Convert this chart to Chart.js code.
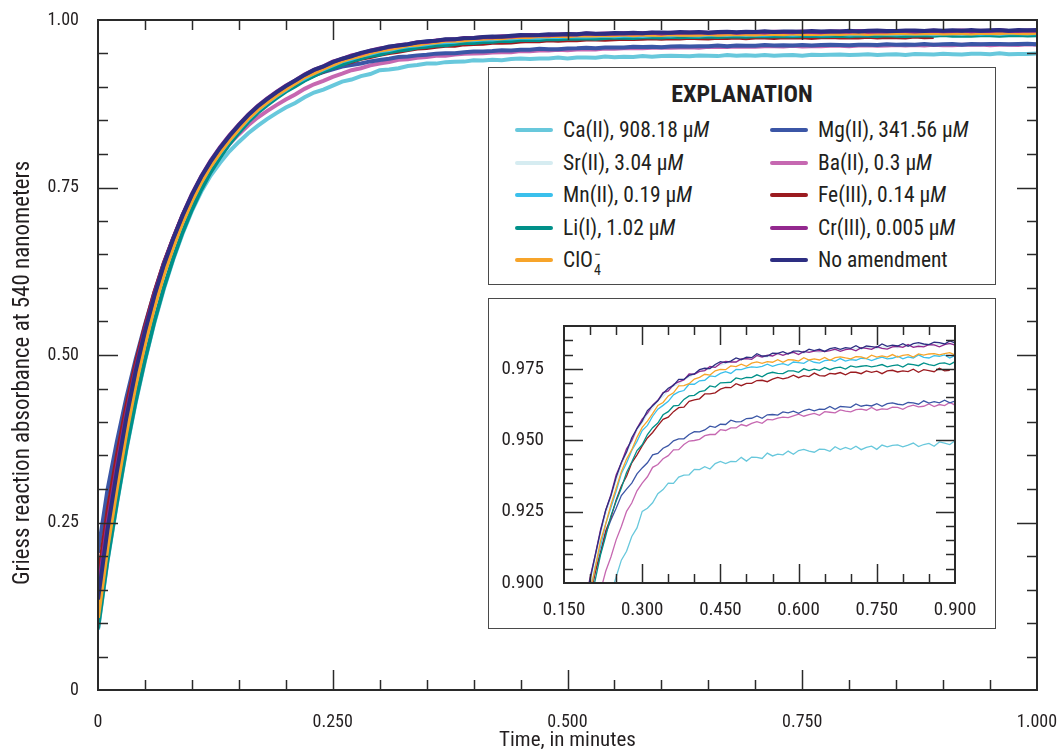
<!DOCTYPE html>
<html>
<head>
<meta charset="utf-8">
<script src="https://cdn.jsdelivr.net/npm/chart.js@4.4.1/dist/chart.umd.min.js"></script>
<style>
  html, body { margin: 0; padding: 0; background: #fff; }
  #wrap {
    position: relative; width: 1057px; height: 753px; overflow: hidden;
    font-family: 'Liberation Sans Narrow', 'Roboto Condensed', 'DejaVu Sans Condensed', 'Liberation Sans', sans-serif;
    color: #231f20;
  }
  #main { position: absolute; left: 0; top: 0; }
  .box { position: absolute; background: #fff; border: 1.5px solid #4a4a4a; box-sizing: border-box; }
  #legend { left: 488px; top: 67px; width: 508px; height: 218px; }
  #legend .ttl { position: absolute; left: 0; right: 0; top: 12px; text-align: center; font-weight: bold; font-size: 24px; }
  .item { position: absolute; height: 30px; line-height: 30px; font-size: 21.5px; white-space: nowrap; }
  .item .sw { position: absolute; left: 0; top: 13px; width: 38px; height: 4px; border-radius: 2px; }
  .item .tx { position: absolute; left: 48px; top: 0; }
  .stk { display: inline-block; position: relative; width: 8px; height: 10px; }
  .stk .sb { position: absolute; left: 1px; top: 6px; font-size: 14px; line-height: 14px; }
  .stk .sp { position: absolute; left: 1px; top: -10px; font-size: 14px; line-height: 14px; }
  #insetBox { left: 488px; top: 298px; width: 508px; height: 331px; }
  #inset { position: absolute; left: 488px; top: 298px; }
</style>
</head>
<body>
<div id="wrap">
  <canvas id="main" width="1057" height="753"></canvas>
  <div id="legend" class="box"><div class="ttl">EXPLANATION</div></div>
  <div id="insetBox" class="box"></div>
  <canvas id="inset" width="507" height="330"></canvas>
</div>
<script>
// Time, in minutes (shared by every series)
const times = [
  0.00,0.01,0.02,0.03,0.04,0.05,0.06,0.07,0.08,0.09,
  0.10,0.11,0.12,0.13,0.14,0.15,0.16,0.17,0.18,0.19,
  0.20,0.21,0.22,0.23,0.24,0.25,0.26,0.27,0.28,0.29,
  0.30,0.31,0.32,0.33,0.34,0.35,0.36,0.37,0.38,0.39,
  0.40,0.41,0.42,0.43,0.44,0.45,0.46,0.47,0.48,0.49,
  0.50,0.51,0.52,0.53,0.54,0.55,0.56,0.57,0.58,0.59,
  0.60,0.61,0.62,0.63,0.64,0.65,0.66,0.67,0.68,0.69,
  0.70,0.71,0.72,0.73,0.74,0.75,0.76,0.77,0.78,0.79,
  0.80,0.81,0.82,0.83,0.84,0.85,0.86,0.87,0.88,0.89,
  0.90,0.91,0.92,0.93,0.94,0.95,0.96,0.97,0.98,0.99,
  1.00
];

// Griess reaction absorbance at 540 nm for each amendment
const caII = [
  0.090,0.191,0.277,0.357,0.428,0.491,0.548,0.598,0.642,0.681,
  0.715,0.744,0.768,0.787,0.804,0.818,0.831,0.842,0.852,0.861,
  0.8693,0.8762,0.8846,0.8917,0.8962,0.9021,0.9080,0.9111,0.9163,0.9193,
  0.9251,0.9262,0.9281,0.9313,0.9327,0.9350,0.9349,0.9371,0.9378,0.9379,
  0.9398,0.9397,0.9407,0.9399,0.9418,0.9426,0.9418,0.9426,0.9425,0.9440,
  0.9427,0.9441,0.9440,0.9436,0.9455,0.9445,0.9451,0.9449,0.9462,0.9451,
  0.9464,0.9468,0.9462,0.9458,0.9469,0.9468,0.9461,0.9477,0.9467,0.9475,
  0.9468,0.9479,0.9467,0.9475,0.9479,0.9468,0.9483,0.9477,0.9482,0.9484,
  0.9477,0.9483,0.9490,0.9478,0.9485,0.9489,0.9479,0.9494,0.9490,0.9485,
  0.9498,0.9490,0.9484,0.9495,0.9496,0.9490,0.9503,0.9488,0.9494,0.9491,
  0.9501
];
const srII = [
  0.120,0.224,0.312,0.393,0.464,0.523,0.578,0.6255,0.6655,0.7015,
  0.733,0.7605,0.7845,0.805,0.8235,0.840,0.8555,0.869,0.8802,0.8903,
  0.8997,0.9082,0.9168,0.9241,0.9298,0.9357,0.9412,0.9456,0.9493,0.9535,
  0.9561,0.9591,0.9613,0.9639,0.9653,0.9674,0.9690,0.9696,0.9714,0.9721,
  0.9731,0.9740,0.9744,0.9753,0.9762,0.9763,0.9769,0.9774,0.9773,0.9783,
  0.9785,0.9785,0.9794,0.9791,0.9792,0.9798,0.9801,0.9800,0.9807,0.9803,
  0.9806,0.9805,0.9811,0.9811,0.9807,0.9814,0.9817,0.9814,0.9815,0.9822,
  0.9817,0.9821,0.9819,0.9827,0.9822,0.9821,0.9827,0.9826,0.9829,0.9824,
  0.9830,0.9831,0.9829,0.9835,0.9832,0.9836,0.9831,0.9837,0.9839,0.9835,
  0.9839,0.9838,0.9843,0.9837,0.9842,0.9841,0.9839,0.9846,0.9841,0.9844,
  0.9841
];
const mnII = [
  0.115,0.218,0.306,0.387,0.459,0.520,0.575,0.622,0.663,0.699,
  0.731,0.7585,0.782,0.8022,0.8205,0.8367,0.852,0.8652,0.8765,0.8868,
  0.8958,0.9057,0.9127,0.9206,0.9264,0.9321,0.9383,0.9420,0.9464,0.9496,
  0.9534,0.9552,0.9584,0.9609,0.9622,0.9636,0.9659,0.9669,0.9674,0.9696,
  0.9696,0.9708,0.9710,0.9725,0.9723,0.9734,0.9740,0.9734,0.9748,0.9747,
  0.9753,0.9757,0.9755,0.9759,0.9766,0.9759,0.9765,0.9768,0.9762,0.9774,
  0.9772,0.9769,0.9780,0.9773,0.9770,0.9779,0.9781,0.9776,0.9786,0.9777,
  0.9782,0.9780,0.9787,0.9786,0.9779,0.9786,0.9791,0.9785,0.9787,0.9794,
  0.9785,0.9792,0.9788,0.9799,0.9790,0.9788,0.9796,0.9794,0.9799,0.9788,
  0.9797,0.9797,0.9792,0.9802,0.9796,0.9801,0.9791,0.9801,0.9803,0.9797,
  0.9801
];
const liI = [
  0.092,0.193,0.279,0.359,0.430,0.493,0.550,0.600,0.644,0.683,
  0.717,0.747,0.773,0.795,0.815,0.832,0.848,0.8615,0.873,0.8832,
  0.8931,0.9012,0.9098,0.9164,0.9235,0.9286,0.9333,0.9387,0.9424,0.9464,
  0.9484,0.9520,0.9544,0.9560,0.9589,0.9600,0.9620,0.9622,0.9643,0.9655,
  0.9657,0.9670,0.9674,0.9690,0.9686,0.9701,0.9702,0.9703,0.9718,0.9714,
  0.9720,0.9719,0.9729,0.9722,0.9733,0.9738,0.9734,0.9733,0.9743,0.9743,
  0.9738,0.9750,0.9744,0.9749,0.9745,0.9755,0.9747,0.9753,0.9756,0.9749,
  0.9760,0.9756,0.9759,0.9761,0.9757,0.9760,0.9765,0.9757,0.9761,0.9764,
  0.9756,0.9767,0.9765,0.9761,0.9771,0.9765,0.9761,0.9769,0.9771,0.9765,
  0.9775,0.9764,0.9768,0.9766,0.9773,0.9772,0.9764,0.9772,0.9776,0.9770,
  0.9771
];
const clo4 = [
  0.108,0.212,0.301,0.383,0.455,0.517,0.572,0.620,0.661,0.698,
  0.730,0.758,0.782,0.8025,0.821,0.8375,0.853,0.8661,0.8772,0.8874,
  0.8968,0.9055,0.9147,0.9208,0.9274,0.9332,0.9390,0.9434,0.9467,0.9510,
  0.9545,0.9567,0.9593,0.9622,0.9632,0.9655,0.9666,0.9690,0.9691,0.9698,
  0.9714,0.9720,0.9731,0.9728,0.9743,0.9748,0.9747,0.9760,0.9758,0.9766,
  0.9759,0.9770,0.9774,0.9769,0.9775,0.9773,0.9782,0.9773,0.9782,0.9781,
  0.9777,0.9789,0.9781,0.9785,0.9781,0.9790,0.9780,0.9789,0.9792,0.9788,
  0.9785,0.9793,0.9792,0.9786,0.9798,0.9791,0.9795,0.9791,0.9800,0.9791,
  0.9797,0.9800,0.9791,0.9802,0.9798,0.9802,0.9803,0.9799,0.9803,0.9807,
  0.9799,0.9804,0.9806,0.9799,0.9809,0.9807,0.9803,0.9813,0.9806,0.9803,
  0.9810
];
const mgII = [
  0.205,0.298,0.370,0.435,0.493,0.545,0.593,0.636,0.673,0.707,
  0.7375,0.7642,0.787,0.8065,0.824,0.8397,0.8545,0.8672,0.878,0.8875,
  0.8960,0.9042,0.9104,0.9174,0.9221,0.9262,0.9306,0.9329,0.9350,0.9382,
  0.9403,0.9421,0.9449,0.9454,0.9472,0.9481,0.9498,0.9505,0.9505,0.9520,
  0.9530,0.9529,0.9536,0.9549,0.9545,0.9556,0.9555,0.9570,0.9564,0.9565,
  0.9576,0.9577,0.9585,0.9577,0.9589,0.9590,0.9588,0.9599,0.9596,0.9602,
  0.9594,0.9604,0.9609,0.9603,0.9609,0.9608,0.9618,0.9608,0.9618,0.9617,
  0.9615,0.9627,0.9619,0.9623,0.9620,0.9628,0.9619,0.9628,0.9631,0.9626,
  0.9624,0.9632,0.9631,0.9626,0.9638,0.9630,0.9635,0.9631,0.9640,0.9631,
  0.9637,0.9641,0.9632,0.9643,0.9638,0.9642,0.9643,0.9639,0.9642,0.9647,
  0.9638
];
const baII = [
  0.130,0.233,0.320,0.400,0.470,0.530,0.582,0.6275,0.6665,0.701,
  0.731,0.757,0.779,0.798,0.815,0.8295,0.843,0.8545,0.864,0.873,
  0.8813,0.8888,0.8972,0.9041,0.9091,0.9151,0.9198,0.9251,0.9280,0.9323,
  0.9350,0.9372,0.9405,0.9415,0.9435,0.9446,0.9466,0.9467,0.9485,0.9497,
  0.9499,0.9503,0.9516,0.9520,0.9520,0.9537,0.9534,0.9543,0.9543,0.9555,
  0.9550,0.9559,0.9565,0.9559,0.9573,0.9571,0.9577,0.9581,0.9579,0.9585,
  0.9591,0.9584,0.9590,0.9594,0.9587,0.9600,0.9598,0.9596,0.9606,0.9602,
  0.9599,0.9607,0.9609,0.9605,0.9615,0.9605,0.9610,0.9608,0.9616,0.9615,
  0.9608,0.9618,0.9623,0.9617,0.9619,0.9627,0.9618,0.9625,0.9621,0.9632,
  0.9623,0.9623,0.9631,0.9629,0.9633,0.9624,0.9632,0.9632,0.9627,0.9637,
  0.9631
];
const feIII = [
  0.165,0.266,0.349,0.423,0.487,0.543,0.593,0.637,0.674,0.708,
  0.738,0.7645,0.787,0.8065,0.824,0.8395,0.854,0.8665,0.877,0.8865,
  0.8948,0.9037,0.9107,0.9182,0.9229,0.9291,0.9340,0.9374,0.9421,0.9449,
  0.9480,0.9508,0.9527,0.9551,0.9573,0.9581,0.9600,0.9614,0.9616,0.9636,
  0.9641,0.9645,0.9662,0.9662,0.9666,0.9679,0.9685,0.9684,0.9698,0.9691,
  0.9699,0.9699,0.9709,0.9710,0.9705,0.9714,0.9720,0.9715,0.9719,0.9728,
  0.9719,0.9726,0.9723,0.9735,0.9726,0.9725,0.9734,0.9732,0.9737,0.9729,
  0.9738,0.9738,0.9733,0.9743,0.9738,0.9742,0.9733,0.9743,0.9745,0.9739,
  0.9743,0.9740,0.9749,0.9738,0.9747,0.9744,0.9740,0.9752,0.9743,0.9745
];
const crIII = [
  0.147,0.248,0.333,0.411,0.479,0.538,0.590,0.6355,0.674,0.709,
  0.740,0.767,0.790,0.810,0.828,0.8438,0.8587,0.8717,0.8826,0.8926,
  0.9019,0.9099,0.9186,0.9255,0.9309,0.9378,0.9421,0.9470,0.9499,0.9542,
  0.9574,0.9595,0.9623,0.9640,0.9667,0.9673,0.9695,0.9704,0.9711,0.9732,
  0.9731,0.9741,0.9744,0.9758,0.9755,0.9769,0.9776,0.9774,0.9774,0.9785,
  0.9786,0.9783,0.9797,0.9791,0.9798,0.9795,0.9804,0.9797,0.9804,0.9808,
  0.9800,0.9811,0.9808,0.9812,0.9814,0.9810,0.9814,0.9819,0.9811,0.9817,
  0.9820,0.9813,0.9824,0.9822,0.9818,0.9828,0.9822,0.9819,0.9827,0.9829,
  0.9825,0.9835,0.9825,0.9829,0.9827,0.9835,0.9834,0.9827,0.9835,0.9839,
  0.9833,0.9835,0.9842,0.9833,0.9839,0.9835,0.9846,0.9837,0.9834,0.9843,
  0.9840
];
const noAmendment = [
  0.135,0.238,0.325,0.405,0.475,0.535,0.588,0.634,0.673,0.708,
  0.739,0.766,0.789,0.809,0.827,0.843,0.858,0.871,0.882,0.892,
  0.9013,0.9098,0.9181,0.9255,0.9306,0.9370,0.9422,0.9459,0.9509,0.9541,
  0.9567,0.9604,0.9621,0.9638,0.9664,0.9682,0.9692,0.9713,0.9713,0.9727,
  0.9732,0.9747,0.9752,0.9751,0.9765,0.9775,0.9772,0.9777,0.9788,0.9782,
  0.9791,0.9789,0.9803,0.9795,0.9795,0.9805,0.9804,0.9810,0.9802,0.9812,
  0.9812,0.9808,0.9819,0.9814,0.9819,0.9811,0.9821,0.9824,0.9818,0.9824,
  0.9822,0.9831,0.9821,0.9830,0.9828,0.9825,0.9837,0.9829,0.9833,0.9830,
  0.9838,0.9829,0.9838,0.9842,0.9837,0.9835,0.9843,0.9842,0.9837,0.9848,
  0.9841,0.9846,0.9841,0.9850,0.9841,0.9847,0.9849,0.9841,0.9851,0.9847,
  0.9850
];

// Legend labels and line colours, in legend order
const seriesLabels = [
  'Ca(II), 908.18 µM', 'Sr(II), 3.04 µM', 'Mn(II), 0.19 µM', 'Li(I), 1.02 µM', 'ClO4−',
  'Mg(II), 341.56 µM', 'Ba(II), 0.3 µM', 'Fe(III), 0.14 µM', 'Cr(III), 0.005 µM', 'No amendment'
];
const seriesValues = [caII, srII, mnII, liI, clo4, mgII, baII, feIII, crIII, noAmendment];
const seriesColors = [
  '#68c8dc', '#d6ecf1', '#3ac0ec', '#009089', '#f7a42a',
  '#3b56a6', '#c668b1', '#9b1b20', '#93288e', '#2d2e82'
];
// stacking: smaller number is painted later (on top)
const seriesOrder = [8, 9, 3, 4, 2, 6, 7, 5, 1, 0];

// Axis ticks
const mainXTicks = [0, 0.25, 0.5, 0.75, 1.0];
const mainYTicks = [0, 0.25, 0.5, 0.75, 1.0];
const insetXTicks = [0.15, 0.3, 0.45, 0.6, 0.75, 0.9];
const insetYTicks = [0.9, 0.925, 0.95, 0.975];

const FONT = "'Liberation Sans Narrow', 'Roboto Condensed', 'DejaVu Sans Condensed', 'Liberation Sans', sans-serif";
const INK = '#231f20';
Chart.defaults.font.family = FONT;
Chart.defaults.color = INK;

function toPoints(vals) {
  const pts = [];
  vals.forEach((v, i) => { if (v !== null && v !== undefined) pts.push({ x: times[i], y: v }); });
  return pts;
}
function makeDatasets(width) {
  return seriesValues.map((vals, i) => ({
    label: seriesLabels[i],
    data: toPoints(vals),
    borderColor: seriesColors[i],
    backgroundColor: seriesColors[i],
    borderWidth: width,
    pointRadius: 0,
    tension: 0,
    fill: false,
    order: seriesOrder[i]
  }));
}

// Frame with inward-pointing ticks on all four sides
const frameTicks = {
  id: 'frameTicks',
  afterDatasetsDraw(chart, args, o) {
    const { ctx, chartArea: a, scales: { x, y } } = chart;
    const seg = (x1, y1, x2, y2) => { ctx.beginPath(); ctx.moveTo(x1, y1); ctx.lineTo(x2, y2); ctx.stroke(); };
    const isMajor = (v, step) => Math.abs(v / step - Math.round(v / step)) < 1e-6;
    ctx.save();
    ctx.strokeStyle = o.color;
    ctx.lineWidth = o.tickWidth;
    const nx = Math.round((x.max - x.min) / o.xMinor);
    for (let k = 1; k < nx; k++) {
      const v = x.min + k * o.xMinor;
      const px = Math.round(x.getPixelForValue(v)) + 0.5;
      const L = isMajor(v, o.xMajor) ? o.majorLen : o.minorLen;
      seg(px, a.bottom, px, a.bottom - L);
      seg(px, a.top, px, a.top + L);
    }
    const ny = Math.round((y.max - y.min) / o.yMinor);
    for (let k = 1; k < ny; k++) {
      const v = y.min + k * o.yMinor;
      const py = Math.round(y.getPixelForValue(v)) + 0.5;
      const L = isMajor(v, o.yMajor) ? o.majorLen : o.minorLen;
      seg(a.left, py, a.left + L, py);
      seg(a.right, py, a.right - L, py);
    }
    ctx.lineWidth = o.frameWidth;
    ctx.strokeRect(a.left, a.top, a.right - a.left, a.bottom - a.top);
    ctx.restore();
  }
};

// Axis titles for the main plot
const axisTitles = {
  id: 'axisTitles',
  afterDraw(chart, args, o) {
    if (!o.x) return;
    const { ctx, chartArea: a } = chart;
    ctx.save();
    ctx.fillStyle = INK;
    ctx.textAlign = 'center';
    ctx.textBaseline = 'middle';
    ctx.font = o.xFont;
    ctx.fillText(o.x, (a.left + a.right) / 2, o.xY);
    ctx.translate(o.yX, o.yY);
    ctx.rotate(-Math.PI / 2);
    ctx.font = o.yFont;
    ctx.fillText(o.y, 0, 0);
    ctx.restore();
  }
};

function fixedTicks(list) {
  return function (scale) { scale.ticks = list.map(v => ({ value: v })); };
}
function fitX(h) { return s => { s.height = h; s.paddingLeft = 0; s.paddingRight = 0; }; }
function fitY(w) { return s => { s.width = w; s.paddingTop = 0; s.paddingBottom = 0; }; }

// Main plot
new Chart(document.getElementById('main'), {
  type: 'line',
  data: { datasets: makeDatasets(4) },
  plugins: [frameTicks, axisTitles],
  options: {
    responsive: false,
    animation: false,
    devicePixelRatio: 1,
    layout: { padding: { top: 20, right: 20, left: 0, bottom: 0 } },
    plugins: {
      legend: { display: false },
      tooltip: { enabled: false },
      frameTicks: { color: '#2a2a2a', tickWidth: 1.5, frameWidth: 2, xMinor: 0.05, xMajor: 0.25, yMinor: 0.05, yMajor: 0.25, minorLen: 10, majorLen: 20 },
      axisTitles: {
        x: 'Time, in minutes', xY: 741, xFont: '21px ' + FONT,
        y: 'Griess reaction absorbance at 540 nanometers', yX: 23, yY: 373, yFont: '23px ' + FONT
      }
    },
    scales: {
      x: {
        type: 'linear', min: 0, max: 1,
        afterFit: fitX(63),
        afterBuildTicks: fixedTicks(mainXTicks),
        grid: { display: false },
        border: { display: false },
        ticks: { padding: 14, maxRotation: 0, font: { size: 18 }, color: INK,
          callback: v => v === 0 ? '0' : v.toFixed(3) }
      },
      y: {
        type: 'linear', min: 0, max: 1,
        afterFit: fitY(98),
        afterBuildTicks: fixedTicks(mainYTicks),
        grid: { display: false },
        border: { display: false },
        ticks: { padding: 11, font: { size: 18 }, color: INK,
          callback: v => v === 0 ? '0' : v.toFixed(2) }
      }
    }
  }
});

// Inset: zoom on the plateau
new Chart(document.getElementById('inset'), {
  type: 'line',
  data: { datasets: makeDatasets(1.3) },
  plugins: [frameTicks],
  options: {
    responsive: false,
    animation: false,
    devicePixelRatio: 1,
    layout: { padding: { top: 28, right: 40, left: 0, bottom: 0 } },
    plugins: {
      legend: { display: false },
      tooltip: { enabled: false },
      frameTicks: { color: '#2a2a2a', tickWidth: 1.5, frameWidth: 2, xMinor: 0.05, xMajor: 0.15, yMinor: 0.005, yMajor: 0.025, minorLen: 9, majorLen: 19 }
    },
    scales: {
      x: {
        type: 'linear', min: 0.15, max: 0.9,
        afterFit: fitX(45),
        afterBuildTicks: fixedTicks(insetXTicks),
        grid: { display: false },
        border: { display: false },
        ticks: { padding: 8, maxRotation: 0, font: { size: 19 }, color: INK,
          callback: v => v.toFixed(3) }
      },
      y: {
        type: 'linear', min: 0.9, max: 0.99,
        afterFit: fitY(76),
        afterBuildTicks: fixedTicks(insetYTicks),
        grid: { display: false },
        border: { display: false },
        ticks: { padding: 12, font: { size: 19 }, color: INK,
          callback: v => v.toFixed(3) }
      }
    }
  }
});

// Explanation box, two columns of five
(function buildLegend() {
  const box = document.getElementById('legend');
  seriesLabels.forEach((label, i) => {
    const col = i < 5 ? 0 : 1;
    const row = i % 5;
    const item = document.createElement('div');
    item.className = 'item';
    item.style.left = (col === 0 ? 26 : 281) + 'px';
    item.style.top = (47 + row * 32.5) + 'px';
    const sw = document.createElement('span');
    sw.className = 'sw';
    sw.style.background = seriesColors[i];
    const tx = document.createElement('span');
    tx.className = 'tx';
    if (label === 'ClO4−') {
      tx.innerHTML = 'ClO<span class="stk"><span class="sp">−</span><span class="sb">4</span></span>';
    } else if (label.endsWith('µM')) {
      tx.innerHTML = label.slice(0, -1) + '<i>M</i>';
    } else {
      tx.textContent = label;
    }
    item.appendChild(sw);
    item.appendChild(tx);
    box.appendChild(item);
  });
})();
</script>
</body>
</html>
